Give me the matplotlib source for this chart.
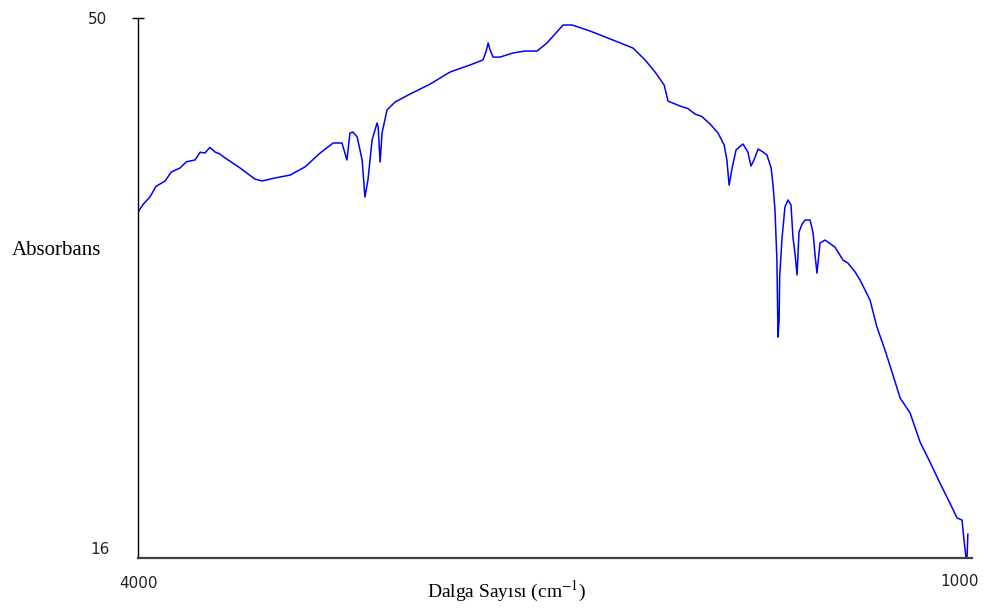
import numpy as np
import matplotlib
matplotlib.use("Agg")
import matplotlib.pyplot as plt
import matplotlib.transforms as mtransforms

# IR spectrum, wavenumber (cm-1) vs absorbance
wavenumber = [
    4000, 3980, 3957, 3935, 3902, 3880, 3848, 3825, 3794, 3775, 3758, 3740,
    3721, 3705, 3685, 3631, 3577, 3551, 3504,
    3450, 3396, 3341, 3294, 3262, 3244, 3233, 3222, 3207, 3189, 3179, 3168,
    3153, 3135, 3131, 3124, 3117, 3099, 3070, 3016, 2943, 2871, 2799, 2752,
    2741, 2733, 2726, 2715, 2690, 2643, 2600, 2556, 2520, 2491, 2462, 2429,
    2364, 2281, 2209, 2165, 2129, 2096, 2082, 2039, 2010, 1984, 1960, 1930, 1901, 1879,
    1869, 1861, 1850, 1836, 1811, 1793, 1782, 1771, 1756, 1738, 1724, 1709,
    1702, 1695, 1688, 1684, 1680, 1678, 1670, 1659, 1648, 1637, 1630, 1622,
    1615, 1608, 1597, 1586, 1568, 1557, 1550, 1543, 1532, 1514, 1478, 1449,
    1431, 1405, 1387, 1351, 1326, 1297, 1268, 1242, 1206, 1170, 1134, 1098,
    1062, 1036, 1018, 1011, 1004, 1000, 997,
]
absorbance = [
    37.79, 38.30, 38.73, 39.40, 39.74, 40.30, 40.56, 40.95, 41.06, 41.55, 41.50, 41.85,
    41.56, 41.45, 41.19, 40.56, 39.86, 39.74, 39.93,
    40.11, 40.62, 41.50, 42.13, 42.13, 41.06, 42.76, 42.82, 42.51, 41.06, 38.73, 39.80,
    42.32, 43.39, 43.14, 40.93, 42.76, 44.21, 44.71, 45.21, 45.84, 46.60, 47.04, 47.36,
    47.86, 48.43, 47.99, 47.54, 47.54, 47.80, 47.92, 47.92, 48.43, 48.99, 49.56, 49.56,
    49.18, 48.61, 48.11, 47.36, 46.60, 45.78, 44.77, 44.46, 44.30, 43.95, 43.80, 43.33, 42.76, 42.00,
    41.06, 39.48, 40.56, 41.69, 42.07, 41.56, 40.68, 41.06, 41.75, 41.56, 41.37, 40.56,
    39.48, 37.91, 34.76, 29.91, 30.99, 33.69, 36.02, 38.10, 38.54, 38.23, 36.21, 35.08,
    33.82, 36.53, 37.03, 37.28, 37.28, 36.46, 35.08, 33.94, 35.83, 36.02, 35.58, 34.76,
    34.57, 34.01, 33.50, 32.24, 30.54, 29.10, 27.52, 26.07, 25.13, 23.30, 22.04, 20.72,
    19.46, 18.52, 18.39, 17.13, 16.06, 16.00, 17.50,
]
x_ticks = [4000, 1000]
y_ticks = [16, 50]

plt.rcParams["mathtext.fontset"] = "stix"

fig = plt.figure(figsize=(9.86, 6.13), dpi=100)
ax = fig.add_axes([0.14, 0.0897, 0.8458, 0.8809])

ax.plot(wavenumber, absorbance, color="#0000ff", lw=1.1)

ax.set_xlim(4000, 982)
ax.set_ylim(16, 50)

for s in ["top", "right"]:
    ax.spines[s].set_visible(False)
ax.spines["left"].set_color("black")
ax.spines["left"].set_linewidth(1.0)
ax.spines["bottom"].set_color("#404040")
ax.spines["bottom"].set_linewidth(1.6)

ax.set_xticks(x_ticks)
ax.set_xticklabels([str(v) for v in x_ticks], fontsize=11, color="#222222")
ax.tick_params(axis="x", length=0, pad=13)

ax.set_yticks(y_ticks)
ax.set_yticklabels([str(v) for v in y_ticks], fontsize=11, color="#222222")
ax.tick_params(axis="y", direction="inout", length=9, width=1, pad=18)
ax.yaxis.get_major_ticks()[0].tick1line.set_visible(False)

# nudge the lower y label up and the right x label left
lbls = ax.get_yticklabels()
lbls[0].set_transform(lbls[0].get_transform() +
                      mtransforms.ScaledTranslation(0.03, 0.10, fig.dpi_scale_trans))
xl = ax.get_xticklabels()
xl[1].set_transform(xl[1].get_transform() +
                    mtransforms.ScaledTranslation(-0.07, 0.02, fig.dpi_scale_trans))

fig.text(56 / 986, 1 - 250 / 613, "Absorbans", family="Liberation Serif",
         fontsize=15, ha="center", va="center")
fig.text(507 / 986, 1 - 591 / 613, "Dalga Sayısı (cm$^{-1}$)", family="Liberation Serif",
         fontsize=14, ha="center", va="center")

fig.savefig("out.png", dpi=100)
